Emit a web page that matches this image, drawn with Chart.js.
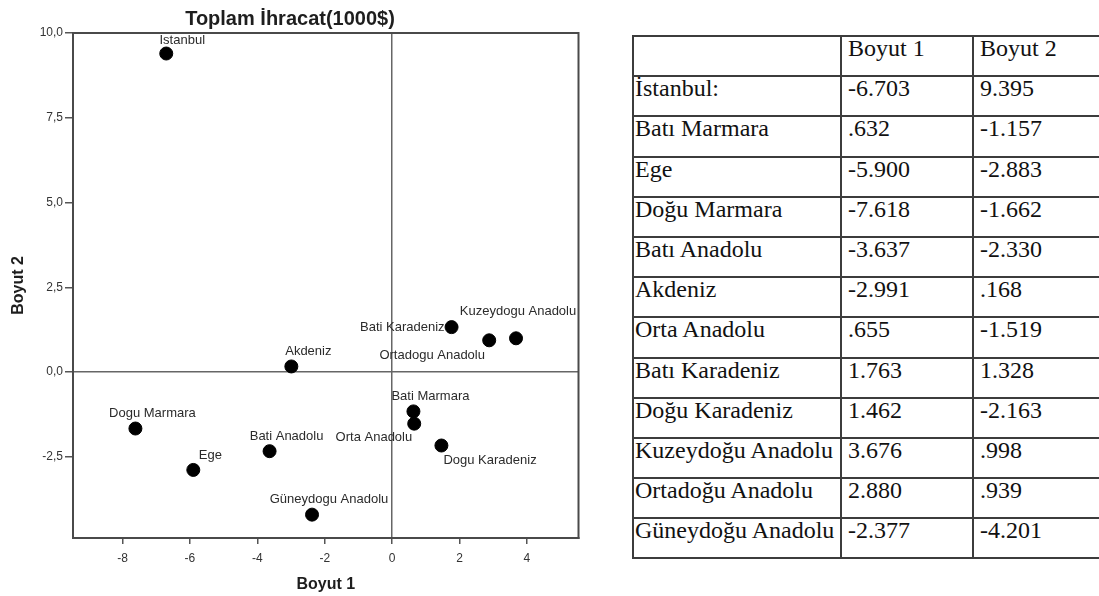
<!DOCTYPE html>
<html>
<head>
<meta charset="utf-8">
<script src="https://cdn.jsdelivr.net/npm/chart.js@4.4.2/dist/chart.umd.min.js"></script>
<style>
  html, body {
    margin: 0;
    padding: 0;
    background: #fff;
    width: 1099px;
    height: 596px;
    overflow: hidden;
  }
  #chartBox {
    position: absolute;
    left: 0;
    top: 0;
    width: 586px;
    height: 596px;
  }
  #coordTable {
    position: absolute;
    left: 632px;
    top: 35px;
    width: 490px;
    border-collapse: collapse;
    font-family: "Liberation Serif", "Times New Roman", serif;
    font-size: 24px;
    color: #111;
    table-layout: fixed;
  }
  #coordTable td {
    border: 2px solid #3c3c3c;
    height: 38.2px;
    padding: 0 0 0 6px;
    vertical-align: top;
    line-height: 22px;
    white-space: nowrap;
    overflow: hidden;
  }
  #coordTable td.name {
    padding-left: 1px;
  }
</style>
</head>
<body>
<div id="chartBox"><canvas id="mdsChart"></canvas></div>
<table id="coordTable">
  <colgroup>
    <col style="width:208px">
    <col style="width:132px">
    <col style="width:150px">
  </colgroup>
  <tbody></tbody>
</table>
<script>
// labels as printed on the plot (SPSS output, no Turkish letters)
const regions = ['Istanbul', 'Bati Marmara', 'Ege', 'Dogu Marmara', 'Bati Anadolu',
  'Akdeniz', 'Orta Anadolu', 'Bati Karadeniz', 'Dogu Karadeniz',
  'Kuzeydogu Anadolu', 'Ortadogu Anadolu', 'Güneydogu Anadolu'];
// labels as written in the table
const tableNames = ['İstanbul:', 'Batı Marmara', 'Ege', 'Doğu Marmara', 'Batı Anadolu',
  'Akdeniz', 'Orta Anadolu', 'Batı Karadeniz', 'Doğu Karadeniz',
  'Kuzeydoğu Anadolu', 'Ortadoğu Anadolu', 'Güneydoğu Anadolu'];
const boyut1 = [-6.703, 0.632, -5.900, -7.618, -3.637, -2.991, 0.655, 1.763, 1.462, 3.676, 2.880, -2.377];
const boyut2 = [9.395, -1.157, -2.883, -1.662, -2.330, 0.168, -1.519, 1.328, -2.163, 0.998, 0.939, -4.201];
const xTicks = [-8, -6, -4, -2, 0, 2, 4];
const yTicks = [-2.5, 0, 2.5, 5, 7.5, 10];
const tableHeader = ['', 'Boyut 1', 'Boyut 2'];

/**
 * Formats a coordinate the way the table shows it: three decimals,
 * no leading zero.
 */
function fmtCoord(v) {
  return v.toFixed(3).replace(/^(-?)0\./, '$1.');
}

// ---- table ----
const tbody = document.querySelector('#coordTable tbody');
const headRow = document.createElement('tr');
tableHeader.forEach((txt, i) => {
  const td = document.createElement('td');
  td.textContent = txt;
  if (i === 0) td.className = 'name';
  headRow.appendChild(td);
});
tbody.appendChild(headRow);
tableNames.forEach((name, i) => {
  const tr = document.createElement('tr');
  [name, fmtCoord(boyut1[i]), fmtCoord(boyut2[i])].forEach((txt, j) => {
    const td = document.createElement('td');
    td.textContent = txt;
    if (j === 0) td.className = 'name';
    tr.appendChild(td);
  });
  tbody.appendChild(tr);
});

// ---- chart ----
const FONT = '"Liberation Sans", Arial, sans-serif';

// frame around the plot area
const plotFrame = {
  id: 'plotFrame',
  afterDraw(chart) {
    const {ctx, chartArea: a} = chart;
    ctx.save();
    ctx.strokeStyle = '#4a4a4a';
    ctx.lineWidth = 2;
    ctx.strokeRect(a.left, a.top, a.right - a.left, a.bottom - a.top);
    ctx.restore();
  }
};

// point labels next to each marker
const pointLabels = {
  id: 'pointLabels',
  afterDatasetsDraw(chart, args, opts) {
    const {ctx} = chart;
    const meta = chart.getDatasetMeta(0);
    ctx.save();
    ctx.font = '13px ' + FONT;
    ctx.fillStyle = '#2b2b2b';
    ctx.textBaseline = 'middle';
    meta.data.forEach((pt, i) => {
      const name = regions[i];
      const p = opts.placement[name] || opts.placement.default;
      ctx.textAlign = p.align || 'center';
      ctx.fillText(name, pt.x + p.dx, pt.y + p.dy);
    });
    ctx.restore();
  }
};

const ctx = document.getElementById('mdsChart').getContext('2d');
new Chart(ctx, {
  type: 'scatter',
  data: {
    datasets: [{
      label: 'Toplam İhracat',
      data: boyut1.map((x, i) => ({x: x, y: boyut2[i]})),
      backgroundColor: '#000',
      borderColor: '#000',
      pointRadius: 6.5,
      pointHoverRadius: 6.5
    }]
  },
  options: {
    responsive: true,
    maintainAspectRatio: false,
    animation: false,
    layout: {
      padding: {left: 0, right: 6, top: 0, bottom: 0}
    },
    plugins: {
      legend: {display: false},
      tooltip: {enabled: false},
      title: {
        display: true,
        text: 'Toplam İhracat(1000$)',
        color: '#1e1e1e',
        font: {family: FONT, size: 20, weight: 'bold'},
        padding: {top: 7, bottom: 2}
      },
      pointLabels: {
        placement: {
          default: {dx: 17, dy: -15},
          'Istanbul': {dx: 16, dy: -13},
          'Kuzeydogu Anadolu': {dx: 2, dy: -27},
          'Bati Karadeniz': {align: 'right', dx: -7, dy: 0},
          'Ortadogu Anadolu': {dx: -57, dy: 15},
          'Orta Anadolu': {align: 'right', dx: -2, dy: 14},
          'Dogu Karadeniz': {align: 'left', dx: 2, dy: 15}
        }
      }
    },
    scales: {
      x: {
        type: 'linear',
        min: -9.47,
        max: 5.53,
        afterBuildTicks: scale => {
          scale.ticks = xTicks.map(v => ({value: v}));
        },
        afterFit: scale => {
          scale.height = 58;
        },
        ticks: {
          color: '#333',
          font: {family: FONT, size: 12},
          padding: 7,
          maxRotation: 0,
          callback: v => String(v)
        },
        grid: {
          color: c => (c.tick && c.tick.value === 0) ? '#666' : 'rgba(0,0,0,0)',
          lineWidth: 1.5,
          tickColor: '#555',
          tickLength: 6
        },
        border: {display: true, color: '#4a4a4a', width: 2},
        title: {
          display: true,
          text: 'Boyut 1',
          color: '#1e1e1e',
          font: {family: FONT, size: 16, weight: 'bold'},
          padding: {top: 0, bottom: 2}
        }
      },
      y: {
        type: 'linear',
        min: -4.89,
        max: 10,
        afterBuildTicks: scale => {
          scale.ticks = yTicks.map(v => ({value: v}));
        },
        afterFit: scale => {
          scale.width = 73;
        },
        ticks: {
          color: '#333',
          font: {family: FONT, size: 12},
          padding: 2,
          callback: v => v.toFixed(1).replace('.', ',')
        },
        grid: {
          color: c => (c.tick && c.tick.value === 0) ? '#666' : 'rgba(0,0,0,0)',
          lineWidth: 1.5,
          tickColor: '#555',
          tickLength: 8
        },
        border: {display: true, color: '#4a4a4a', width: 2},
        title: {
          display: true,
          text: 'Boyut 2',
          color: '#1e1e1e',
          font: {family: FONT, size: 16, weight: 'bold'},
          padding: {top: 9, bottom: 0}
        }
      }
    }
  },
  plugins: [plotFrame, pointLabels]
});
</script>
</body>
</html>
